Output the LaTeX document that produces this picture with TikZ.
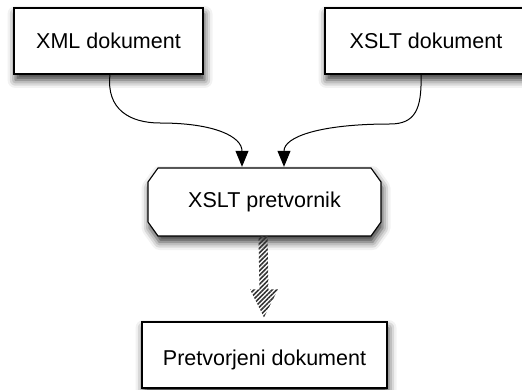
\documentclass[tikz,border=0pt]{standalone}
\usepackage{fontspec}
\setmainfont{Liberation Sans}
\usetikzlibrary{shadows.blur,arrows.meta,patterns.meta,calc}
\begin{document}
\begin{tikzpicture}[x=1pt,y=-1pt,
  myshadow/.style={blur shadow={shadow xshift=1.5pt,shadow yshift=-6pt,shadow blur radius=8pt,shadow opacity=80}},
  boxstyle/.style={draw=black,line width=1.1pt,fill=white,rectangle,inner sep=0pt,
    font=\fontsize{21.5}{26}\selectfont,myshadow},
  flow/.style={draw=black,line width=1pt,-{Triangle[length=16pt,width=13pt]}}]
\useasboundingbox (0,0) rectangle (522,390);
% boxes
\node[boxstyle,minimum width=189pt,minimum height=66pt] (xml) at (108.5,41) {XML dokument};
\node[boxstyle,minimum width=202pt,minimum height=66pt] (xslt) at (426,41) {XSLT dokument};
% octagon
\path[draw=black,line width=1.1pt,fill=white,myshadow]
  (148,182) -- (158,168) -- (371,168) -- (381,182) -- (381,222) -- (371,236) -- (158,236) -- (148,222) -- cycle;
\node[rectangle,inner sep=0pt,minimum width=233pt,minimum height=68pt,
  font=\fontsize{21.5}{26}\selectfont] (conv) at (264.5,202) {XSLT pretvornik};
\node[boxstyle,minimum width=245pt,minimum height=66pt,text height=20pt,text depth=0pt] (res) at (264.5,355) {Pretvorjeni dokument};
% connectors
\draw[flow] ($(xml.south)+(1.5,0)$) .. controls +(-4,35) and +(-30,0) .. (160,123)
  .. controls +(55,0) and +(0,-30) .. ($(conv.north)+(-22.5,-1)$);
\draw[flow] ($(xslt.south)+(-5,0)$) .. controls +(1,35) and +(25,0) .. (390,124)
  .. controls +(-70,0) and +(0,-30) .. ($(conv.north)+(19.5,-1)$);
% hatched arrow
\coordinate (ha) at ($(conv.south)+(-1.5,0)$);
\coordinate (tip) at ($(res.north)+(-0.5,-4)$);
\path[pattern={Lines[angle=45,distance=3.2pt,line width=1.6pt]},pattern color=black!80]
  ($(ha)+(-4.5,0)$) -- ($(tip)+(-4.5,-28)$) -- ($(tip)+(-14,-28)$) -- (tip)
  -- ($(tip)+(14,-28)$) -- ($(tip)+(4.5,-28)$) -- ($(ha)+(4.5,0)$) -- cycle;
\end{tikzpicture}
\end{document}
